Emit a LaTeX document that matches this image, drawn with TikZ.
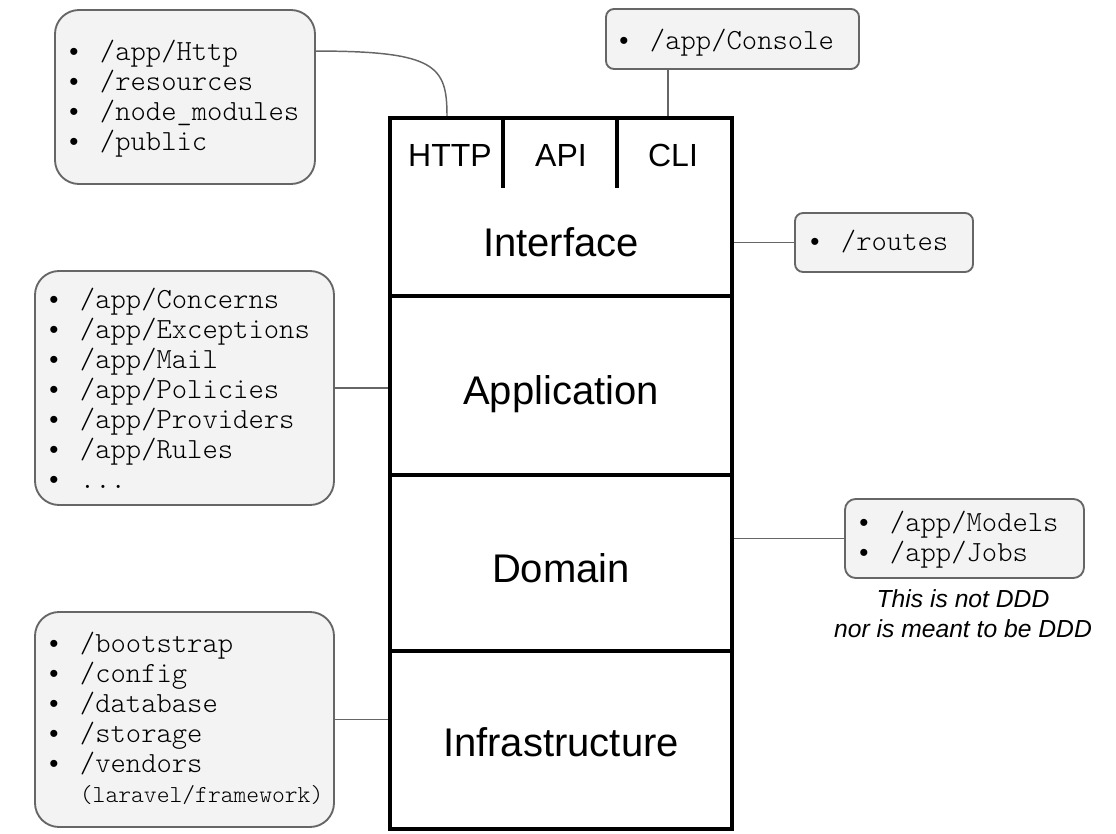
\documentclass[tikz,border=0pt]{standalone}
\usepackage{fontspec}
\setmainfont{Liberation Sans}
\newfontfamily\bulf{Liberation Sans}
\newfontfamily\lmlight{lmmonolt10-regular.otf}
\usetikzlibrary{fit}
\definecolor{boxfill}{HTML}{F3F3F3}
\definecolor{boxline}{HTML}{666666}
\newcommand\bul{\makebox[23pt][l]{\bulf\fontsize{19.5}{22.5}\selectfont •}}
\newcommand\nobul{\makebox[23pt][l]{}}
\begin{document}
\begin{tikzpicture}[x=0.75pt,y=-0.75pt,
  boxs/.style={draw=boxline, fill=boxfill, line width=1.4pt, inner sep=0pt, rounded corners=18pt},
  sboxs/.style={boxs, rounded corners=6pt},
  layer/.style={draw=black, line width=3pt, inner sep=0pt},
  divider/.style={draw=black, line width=3pt},
  conn/.style={draw=boxline, line width=1.1pt},
  biglbl/.style={font=\fontsize{30}{36}\selectfont, text height=21.5pt, text depth=0pt, inner sep=0pt},
  sublbl/.style={font=\fontsize{24}{28}\selectfont, text height=17.2pt, text depth=0pt, inner sep=0pt},
  list/.style={font=\lmlight\fontsize{21.9}{22.5}\selectfont, inner sep=0pt, anchor=base west},
  note/.style={font=\itshape\fontsize{18.5}{22.5}\selectfont, align=center, inner sep=0pt}
]
\useasboundingbox (0,0) rectangle (1116,834);

% main stack
\node[layer, fit={(390,118) (732,296)}] (iface) {};
\node[layer, fit={(390,296) (732,475)}] (app) {};
\node[layer, fit={(390,475) (732,651)}] (dom) {};
\node[layer, fit={(390,651) (732,829)}] (infra) {};
\draw[divider] ([xshift=86.25pt]iface.north west) -- ++(0,72);
\draw[divider] ([xshift=171.75pt]iface.north west) -- ++(0,72);

\node[sublbl] (http) at (450,155) {HTTP};
\node[sublbl] (api) at (561,155) {API};
\node[sublbl] (cli) at (673,155) {CLI};
\node[biglbl] (ifacel) at (561,242) {Interface};
\node[biglbl] (appl) at (561,390) {Application};
\node[biglbl] (doml) at (561,568) {Domain};
\node[biglbl] (infral) at (561,742) {Infrastructure};

% side boxes
\node[boxs, fit={(55,10) (315,184)}] (b1) {};
\node[list] (b1t) at (69,61) {\begin{tabular}[t]{@{}l@{}}\bul/app/Http\\ \bul/resources\\ \bul/node\_modules\\ \bul/public\end{tabular}};

\node[sboxs, fit={(606,9) (859,69)}] (cons) {};
\node[list] (const) at (619,50) {\bul/app/Console};

\node[sboxs, fit={(795,213) (973,272)}] (routes) {};
\node[list] (routest) at (810,251) {\bul/routes};

\node[boxs, fit={(35,271) (334,505)}] (appbox) {};
\node[list] (appt) at (49,308) {\begin{tabular}[t]{@{}l@{}}\bul/app/Concerns\\ \bul/app/Exceptions\\ \bul/app/Mail\\ \bul/app/Policies\\ \bul/app/Providers\\ \bul/app/Rules\\ \bul...\end{tabular}};

\node[sboxs, rounded corners=8pt, fit={(845,499) (1084,578)}] (models) {};
\node[list] (modelst) at (859,531) {\begin{tabular}[t]{@{}l@{}}\bul/app/Models\\ \bul/app/Jobs\end{tabular}};
\node[note] (notet) at (963,614) {This is not DDD\\nor is meant to be DDD};

\node[boxs, fit={(35,612) (334,827)}] (infrabox) {};
\node[list] (infrat) at (49,652) {\begin{tabular}[t]{@{}l@{}}\bul/bootstrap\\ \bul/config\\ \bul/database\\ \bul/storage\\ \bul/vendors\\ \nobul{\fontsize{18.3}{22.5}\selectfont(laravel/framework)}\end{tabular}};

% connectors
\coordinate (cx) at ([xshift=47.25pt]cons.south west);
\draw[conn] (cx) -- (cx |- iface.north);
\coordinate (hs) at ([yshift=-31.5pt]b1.north east);
\coordinate (he) at ([xshift=44.25pt]iface.north west);
\draw[conn] (hs) .. controls +(120,0) and +(0,-50) .. (he);
\draw[conn] (routes.west -| iface.east) -- (routes.west);
\draw[conn] (appbox.east) -- (appbox.east -| app.west);
\draw[conn] (models.west -| dom.east) -- (models.west);
\draw[conn] (infrabox.east) -- (infrabox.east -| infra.west);
\end{tikzpicture}
\end{document}
